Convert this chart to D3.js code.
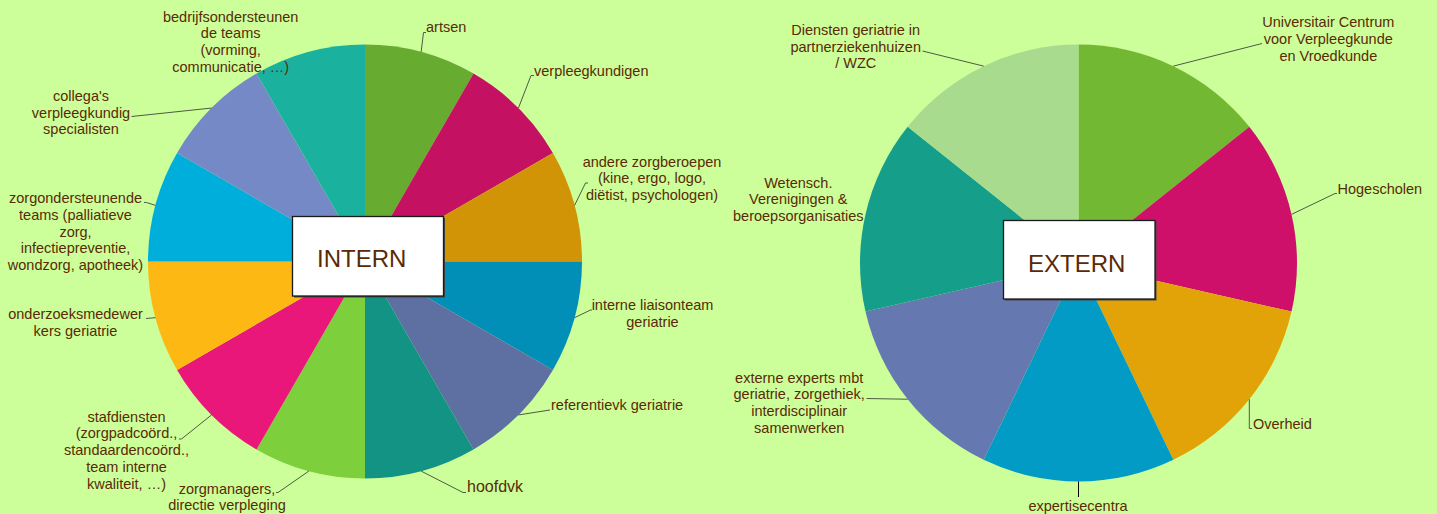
<!DOCTYPE html>
<html>
<head>
<meta charset="utf-8">
<script src="https://cdn.jsdelivr.net/npm/d3@7"></script>
<style>
  body { margin: 0; background: #ccff99; }
  svg { display: block; }
  text { font-family: "Liberation Sans", Arial, sans-serif; fill: #5a2a06; }
</style>
</head>
<body>
<script>
var svgWidth = 1437;
var svgHeight = 514;

// data
var internLabels = [
  "artsen",
  "verpleegkundigen",
  "andere zorgberoepen\n(kine, ergo, logo,\ndiëtist, psychologen)",
  "interne liaisonteam\ngeriatrie",
  "referentievk geriatrie",
  "hoofdvk",
  "zorgmanagers,\ndirectie verpleging",
  "stafdiensten\n(zorgpadcoörd.,\nstandaardencoörd.,\nteam interne\nkwaliteit, …)",
  "onderzoeksmedewer\nkers geriatrie",
  "zorgondersteunende\nteams (palliatieve\nzorg,\ninfectiepreventie,\nwondzorg, apotheek)",
  "collega's\nverpleegkundig\nspecialisten",
  "bedrijfsondersteunen\nde teams\n(vorming,\ncommunicatie, …)"
];
var internValues = [1, 1, 1, 1, 1, 1, 1, 1, 1, 1, 1, 1];

var externLabels = [
  "Universitair Centrum\nvoor Verpleegkunde\nen Vroedkunde",
  "Hogescholen",
  "Overheid",
  "expertisecentra",
  "externe experts mbt\ngeriatrie, zorgethiek,\ninterdisciplinair\nsamenwerken",
  "Wetensch.\nVerenigingen &\nberoepsorganisaties",
  "Diensten geriatrie in\npartnerziekenhuizen\n/ WZC"
];
var externValues = [1, 1, 1, 1, 1, 1, 1];

// colours
var internColors = ["#68ab31", "#c41162", "#d19406", "#018fb8", "#5e6fa2", "#139384",
                    "#7dcf3b", "#e9177a", "#fdb813", "#00aedc", "#7489c6", "#1ab29e"];
var externColors = ["#72b833", "#cf106b", "#e2a308", "#019bc6", "#6579b0", "#159e8a", "#a8db8d"];

// label layout (text position + leader elbow points)
var internLayout = [
  {x: 426, y: 32, anchor: "start", pts: [[423.5, 32.5], [426, 32.5]]},
  {x: 534, y: 75.5, anchor: "start", pts: [[531, 75.5], [534, 75.5]]},
  {x: 652, y: 166.5, anchor: "middle", pts: [[585.5, 183], [588, 183]]},
  {x: 652.5, y: 310, anchor: "middle", pts: [[590.5, 310], [592, 310]]},
  {x: 551, y: 410, anchor: "start", pts: [[550, 410]]},
  {x: 467, y: 492, anchor: "start", pts: [[463, 492.5], [466, 492.5]], size: 16},
  {x: 227, y: 493.5, anchor: "middle", pts: [[278, 492.5], [276, 492.5]]},
  {x: 126.5, y: 421.7, anchor: "middle", pts: [[181.5, 439], [179, 439]]},
  {x: 75.5, y: 319, anchor: "middle", pts: [[146, 318.5]]},
  {x: 75.5, y: 203.3, anchor: "middle", pts: [[146.5, 202.5], [144, 202.5]]},
  {x: 81, y: 101, anchor: "middle", pts: [[131.5, 116.5]]},
  {x: 230.7, y: 21.7, anchor: "middle", pts: null}
];
var externLayout = [
  {x: 1328.3, y: 27.3, anchor: "middle", pts: [[1262, 43.5]]},
  {x: 1337.5, y: 194, anchor: "start", pts: [[1335, 193.5], [1337, 193.5]]},
  {x: 1253, y: 428.5, anchor: "start", pts: [[1249.3, 428.5], [1252, 428.5]]},
  {x: 1078, y: 510.7, anchor: "middle", pts: [[1078.5, 497]], stroke: "#000"},
  {x: 799.2, y: 382.7, anchor: "middle", pts: [[866.5, 398.5]]},
  {x: 798.3, y: 187.7, anchor: "middle", pts: null},
  {x: 855.7, y: 35, anchor: "middle", pts: [[922.5, 51]]}
];

var svg = d3.select("body").append("svg")
  .attr("width", svgWidth)
  .attr("height", svgHeight);

svg.append("rect")
  .attr("width", svgWidth)
  .attr("height", svgHeight)
  .attr("fill", "#ccff99");

var lineHeight = 16.7;

function drawPie(cx, cy, r, labels, values, colors, layout, title, box) {
  var pie = d3.pie().sort(null).value(function(d) { return d; });
  var arcs = pie(values);
  var arc = d3.arc().innerRadius(0).outerRadius(r);
  var edge = d3.arc().innerRadius(r).outerRadius(r);

  var g = svg.append("g").attr("transform", "translate(" + cx + "," + cy + ")");

  // slices
  g.selectAll("path.slice")
    .data(arcs)
    .join("path")
    .attr("class", "slice")
    .attr("d", arc)
    .attr("fill", function(d, i) { return colors[i]; });

  // leader lines
  g.selectAll("polyline.leader")
    .data(arcs.filter(function(d, i) { return layout[i].pts; }))
    .join("polyline")
    .attr("class", "leader")
    .attr("points", function(d) {
      var p = edge.centroid(d);
      var pts = [p].concat(layout[d.index].pts.map(function(q) { return [q[0] - cx, q[1] - cy]; }));
      return pts.map(function(q) { return q.join(","); }).join(" ");
    })
    .attr("fill", "none")
    .attr("stroke", function(d) { return layout[d.index].stroke || "#4d5a45"; })
    .attr("stroke-width", 1);

  // labels
  var lab = svg.append("g").selectAll("text")
    .data(labels)
    .join("text")
    .attr("x", function(d, i) { return layout[i].x; })
    .attr("y", function(d, i) { return layout[i].y; })
    .attr("text-anchor", function(d, i) { return layout[i].anchor; })
    .style("font-size", function(d, i) { return (layout[i].size || 14.5) + "px"; });

  lab.each(function(d, i) {
    var t = d3.select(this);
    d.split("\n").forEach(function(line, k) {
      t.append("tspan")
        .attr("x", layout[i].x)
        .attr("dy", k === 0 ? 0 : lineHeight)
        .text(line);
    });
  });

  // title box
  svg.append("rect")
    .attr("x", box.x + 1.5).attr("y", box.y + 1.5)
    .attr("width", box.w).attr("height", box.h)
    .attr("fill", "#444");
  svg.append("rect")
    .attr("x", box.x).attr("y", box.y)
    .attr("width", box.w).attr("height", box.h)
    .attr("fill", "#fff")
    .attr("stroke", "#1a1a1a")
    .attr("stroke-width", 1.3);
  svg.append("text")
    .attr("x", box.x + 24.5)
    .attr("y", box.ty)
    .style("font-size", "24px")
    .text(title);
}

drawPie(365, 261.5, 217, internLabels, internValues, internColors, internLayout, "INTERN",
  {x: 292.5, y: 216.5, w: 151, h: 79.5, ty: 267});
drawPie(1078.5, 263, 218.5, externLabels, externValues, externColors, externLayout, "EXTERN",
  {x: 1003.5, y: 220.5, w: 151.5, h: 78.5, ty: 271.5});
</script>
</body>
</html>
